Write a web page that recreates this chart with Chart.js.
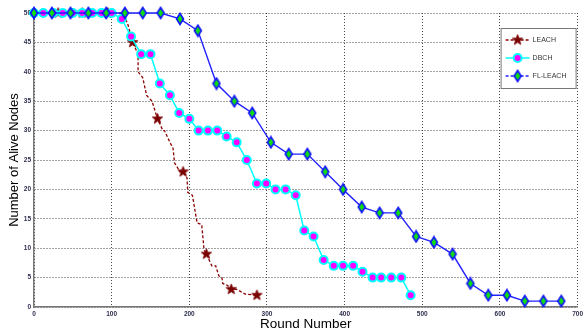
<!DOCTYPE html>
<html>
<head>
<meta charset="utf-8">
<script src="https://cdn.jsdelivr.net/npm/chart.js@4.4.1/dist/chart.umd.min.js"></script>
<style>
  body { margin: 0; background: #fff; }
  canvas { display: block; }
</style>
</head>
<body>
<canvas id="chart1" width="584" height="330"></canvas>
<script>
// LEACH (dashed step line, stars only on some rounds)
const leachRounds = [0, 31, 62, 95, 112, 118, 121, 127, 134, 134, 140, 145, 152, 159, 166, 168, 175, 179, 181, 188, 192, 197, 198, 204, 210, 216, 219, 222, 229, 234, 238, 242, 243, 249, 254, 261, 272, 287];
const leachNodes = [50, 50, 50, 50, 50, 49, 48, 45, 43, 40, 39, 36, 35, 32, 30, 30, 28, 27, 24.5, 23, 23, 22, 19.5, 19, 14.3, 14, 9.7, 9, 7, 7, 5.3, 5, 4, 3.7, 3, 3, 2.2, 2];
const leachMarks = [31, 62, 95, 127, 159, 192, 222, 254, 287];

// DBCH
const dbchRounds = [0, 12, 25, 37, 50, 62, 75, 87, 100, 113, 125, 138, 150, 162, 175, 187, 200, 212, 224, 236, 248, 261, 274, 287, 299, 311, 324, 337, 348, 360, 373, 386, 398, 411, 423, 436, 447, 460, 473, 485];
const dbchNodes = [50, 50, 50, 50, 50, 50, 50, 50, 50, 49, 46, 43, 43, 38, 36, 33, 32, 30, 30, 30, 29, 28, 25, 21, 21, 20, 20, 19, 13, 12, 8, 7, 7, 7, 6, 5, 5, 5, 5, 2];

// FL-LEACH
const flRounds = [0, 23, 47, 70, 93, 117, 140, 163, 188, 211, 235, 258, 281, 305, 328, 352, 375, 398, 422, 445, 469, 492, 515, 539, 562, 585, 609, 632, 656, 679];
const flNodes = [50, 50, 50, 50, 50, 50, 50, 50, 49, 47, 38, 35, 33, 28, 26, 26, 23, 20, 17, 16, 16, 12, 11, 9, 4, 2, 2, 1, 1, 1];

const xTicks = [0, 100, 200, 300, 400, 500, 600, 700];
const yTicks = [0, 5, 10, 15, 20, 25, 30, 35, 40, 45, 50];

function toPoints(xs, ys) {
    return xs.map((x, i) => ({x: x, y: ys[i]}));
}

function makeStar(r, color) {
    const c = document.createElement('canvas');
    c.width = c.height = Math.ceil(2 * r + 2);
    const g = c.getContext('2d');
    const cx = c.width / 2, cy = c.height / 2;
    g.beginPath();
    for (let i = 0; i < 10; i++) {
        const rad = i % 2 === 0 ? r : r * 0.42;
        const a = -Math.PI / 2 + i * Math.PI / 5;
        const px = cx + Math.cos(a) * rad, py = cy + Math.sin(a) * rad;
        if (i === 0) g.moveTo(px, py); else g.lineTo(px, py);
    }
    g.closePath();
    g.fillStyle = color;
    g.fill();
    g.strokeStyle = color;
    g.lineWidth = 0.8;
    g.stroke();
    return c;
}

function makeDiamond(w, h, fill, edge) {
    const c = document.createElement('canvas');
    c.width = w + 3;
    c.height = h + 3;
    const g = c.getContext('2d');
    const cx = c.width / 2, cy = c.height / 2;
    g.beginPath();
    g.moveTo(cx, cy - h / 2);
    g.lineTo(cx + w / 2, cy);
    g.lineTo(cx, cy + h / 2);
    g.lineTo(cx - w / 2, cy);
    g.closePath();
    g.fillStyle = fill;
    g.fill();
    g.strokeStyle = edge;
    g.lineWidth = 1.6;
    g.stroke();
    return c;
}

const starImg = makeStar(5.5, '#7a0000');
const diamondImg = makeDiamond(7, 11, '#10e010', '#1010ff');

const legendItems = [
    {label: 'LEACH', color: '#8b0000', dash: [3, 2], kind: 'star'},
    {label: 'DBCH', color: '#00ffff', dash: [], kind: 'circle'},
    {label: 'FL-LEACH', color: '#2020ff', dash: [3, 2], kind: 'diamond'}
];

const boxLegend = {
    id: 'boxLegend',
    afterDraw(chart) {
        const ctx = chart.ctx;
        const area = chart.chartArea;
        const bx = area.right - 77, by = area.top + 15, bw = 75, bh = 60;
        ctx.save();
        ctx.fillStyle = '#fff';
        ctx.fillRect(bx, by, bw, bh);
        ctx.strokeStyle = '#777';
        ctx.lineWidth = 1;
        ctx.strokeRect(bx + 0.5, by + 0.5, bw, bh);
        legendItems.forEach((it, i) => {
            const y = by + 12 + i * 18;
            ctx.beginPath();
            ctx.setLineDash(it.dash);
            ctx.strokeStyle = it.color;
            ctx.lineWidth = 1.5;
            ctx.moveTo(bx + 5, y);
            ctx.lineTo(bx + 29, y);
            ctx.stroke();
            ctx.setLineDash([]);
            const mx = bx + 17;
            if (it.kind === 'star') {
                ctx.drawImage(starImg, mx - starImg.width / 2, y - starImg.height / 2);
            } else if (it.kind === 'circle') {
                ctx.beginPath();
                ctx.arc(mx, y, 4, 0, Math.PI * 2);
                ctx.fillStyle = '#ff00ff';
                ctx.fill();
                ctx.strokeStyle = '#00ffff';
                ctx.lineWidth = 2;
                ctx.stroke();
            } else {
                ctx.drawImage(diamondImg, mx - diamondImg.width / 2, y - diamondImg.height / 2);
            }
            ctx.fillStyle = '#333';
            ctx.font = '7px "Liberation Sans", Arial, sans-serif';
            ctx.textAlign = 'left';
            ctx.textBaseline = 'middle';
            ctx.fillText(it.label, bx + 32, y + 0.5);
        });
        ctx.restore();
    }
};

function drawChart() {
    const ctx = document.getElementById('chart1');
    const tickFont = {family: '"Liberation Sans", Arial, sans-serif', size: 6.5, weight: 'bold'};
    const titleFont = {family: '"Liberation Sans", Arial, sans-serif', size: 13.5};

    const chart = new Chart(ctx, {
        type: 'line',
        data: {
            datasets: [{
                label: 'FL-LEACH',
                data: toPoints(flRounds, flNodes),
                borderColor: '#2020ff',
                borderWidth: 1.4,
                pointStyle: diamondImg,
                pointRadius: 5,
                clip: false
            }, {
                label: 'DBCH',
                data: toPoints(dbchRounds, dbchNodes),
                borderColor: '#00ffff',
                borderWidth: 1.5,
                pointStyle: 'circle',
                pointRadius: 4,
                pointBorderWidth: 2,
                pointBackgroundColor: '#ff00ff',
                pointBorderColor: '#00ffff',
                clip: false
            }, {
                label: 'LEACH',
                data: toPoints(leachRounds, leachNodes),
                borderColor: '#8b0000',
                borderWidth: 1.3,
                borderDash: [3, 2],
                pointStyle: starImg,
                pointRadius: c => leachMarks.includes(c.raw.x) ? 5 : 0,
                clip: false
            }]
        },
        options: {
            responsive: false,
            animation: false,
            devicePixelRatio: 1,
            layout: {padding: {left: 0, right: 5, top: 13, bottom: 0}},
            plugins: {legend: {display: false}, tooltip: {enabled: false}},
            scales: {
                x: {
                    type: 'linear',
                    min: 0,
                    max: 700,
                    afterBuildTicks: s => { s.ticks = xTicks.map(v => ({value: v})); },
                    afterFit: s => { s.height = 23; s.paddingLeft = 0; s.paddingRight = 0; },
                    ticks: {font: tickFont, color: '#2e2e50', padding: 3, maxRotation: 0, autoSkip: false},
                    grid: {color: 'rgba(50,50,50,0.9)', lineWidth: 1, drawTicks: false},
                    border: {display: true, color: '#777', width: 1.5, dash: [1, 2]},
                    title: {display: true, text: 'Round Number', font: titleFont, color: '#000', padding: {top: 0, bottom: -2}}
                },
                y: {
                    min: 0,
                    max: 50,
                    afterBuildTicks: s => { s.ticks = yTicks.map(v => ({value: v})); },
                    afterFit: s => { s.width = 34; s.paddingTop = 0; s.paddingBottom = 0; },
                    ticks: {font: tickFont, color: '#2e2e50', padding: 3, autoSkip: false},
                    grid: {color: 'rgba(50,50,50,0.9)', lineWidth: 1, drawTicks: false},
                    border: {display: true, color: '#777', width: 1.5, dash: [1, 2]},
                    title: {display: true, text: 'Number of Alive Nodes', font: {family: '"Liberation Sans", Arial, sans-serif', size: 13}, color: '#000', padding: {top: 6.5, bottom: 0}}
                }
            }
        },
        plugins: [boxLegend]
    });
}

drawChart();
</script>
</body>
</html>
